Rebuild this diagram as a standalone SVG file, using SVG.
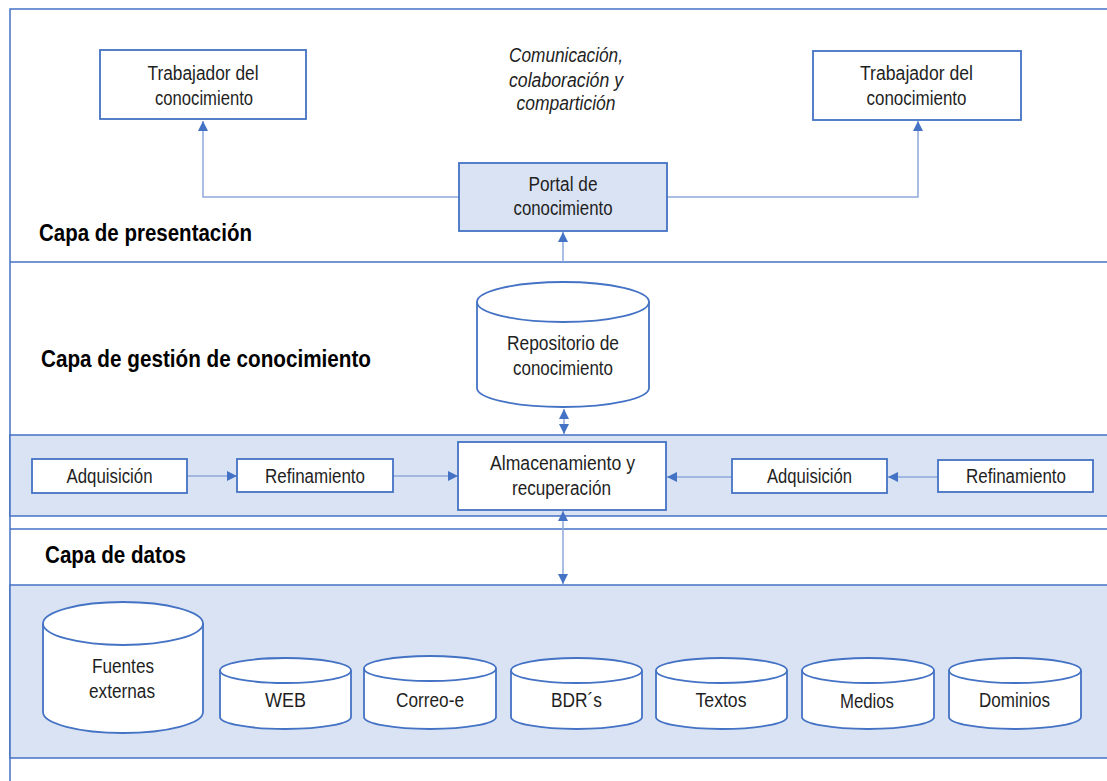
<svg xmlns="http://www.w3.org/2000/svg" width="1107" height="781" viewBox="0 0 1107 781">
<defs>
<marker id="ah" markerUnits="userSpaceOnUse" markerWidth="11" markerHeight="10" refX="10" refY="5" orient="auto-start-reverse" viewBox="0 0 11 10">
<path d="M0,0 L10,5 L0,10 z" fill="#4472C4"/>
</marker>
</defs>
<style>
.frame{fill:#fff;stroke:#4472C4;stroke-width:1.5}
.band{fill:#DAE3F3;stroke:#4472C4;stroke-width:1.5}
.box{fill:#fff;stroke:#4472C4;stroke-width:1.8}
.pbox{fill:#DAE3F3;stroke:#4472C4;stroke-width:1.8}
.cyl{fill:#fff;stroke:#4472C4;stroke-width:1.8}
.t{font-family:"Liberation Sans",Arial,sans-serif;font-size:20px;fill:#1f1f1f;text-anchor:middle}
.ti{font-family:"Liberation Sans",Arial,sans-serif;font-size:20px;fill:#1f1f1f;text-anchor:middle;font-style:italic}
.h{font-family:"Liberation Sans",Arial,sans-serif;font-size:23px;font-weight:bold;fill:#000}
.c{fill:none;stroke:#8EA9DB;stroke-width:1.5}
</style>
<g id="layers">
<rect class="frame" x="10" y="9" width="1110" height="790"/>
<line x1="10" y1="262" x2="1120" y2="262" stroke="#4472C4" stroke-width="1.5"/>
<rect class="band" x="10" y="435" width="1110" height="81"/>
<line x1="10" y1="529" x2="1120" y2="529" stroke="#4472C4" stroke-width="1.5"/>
<rect class="band" x="10" y="585" width="1110" height="173"/>
<text class="h" x="39" y="241" textLength="213" lengthAdjust="spacingAndGlyphs">Capa de presentación</text>
<text class="h" x="41" y="367" textLength="330" lengthAdjust="spacingAndGlyphs">Capa de gestión de conocimiento</text>
<text class="h" x="45" y="563" textLength="141" lengthAdjust="spacingAndGlyphs">Capa de datos</text>
<text class="ti" x="566" y="62" textLength="114" lengthAdjust="spacingAndGlyphs">Comunicación,</text>
<text class="ti" x="566" y="87" textLength="114" lengthAdjust="spacingAndGlyphs">colaboración y</text>
<text class="ti" x="566" y="110" textLength="99" lengthAdjust="spacingAndGlyphs">compartición</text>
</g>
<g id="connectors">
<polyline class="c" points="459,197 203,197 203,121" marker-end="url(#ah)"/>
<polyline class="c" points="667,197 918,197 918,121" marker-end="url(#ah)"/>
<line class="c" x1="563" y1="262" x2="563" y2="232" marker-end="url(#ah)"/>
<line class="c" x1="564" y1="409" x2="564" y2="434" marker-start="url(#ah)" marker-end="url(#ah)"/>
<line class="c" x1="187" y1="476" x2="237" y2="476" marker-end="url(#ah)"/>
<line class="c" x1="393" y1="476" x2="458" y2="476" marker-end="url(#ah)"/>
<line class="c" x1="732" y1="477" x2="667" y2="477" marker-end="url(#ah)"/>
<line class="c" x1="938" y1="477" x2="888" y2="477" marker-end="url(#ah)"/>
<line class="c" x1="563" y1="511" x2="563" y2="584" marker-start="url(#ah)" marker-end="url(#ah)"/>
</g>
<g id="trabajador1">
<rect class="box" x="100" y="50" width="206" height="69"/>
<text class="t" x="203" y="80" textLength="111" lengthAdjust="spacingAndGlyphs">Trabajador del</text>
<text class="t" x="204" y="105" textLength="98" lengthAdjust="spacingAndGlyphs">conocimiento</text>
</g>
<g id="trabajador2">
<rect class="box" x="813" y="51" width="208" height="69"/>
<text class="t" x="916.5" y="80" textLength="113" lengthAdjust="spacingAndGlyphs">Trabajador del</text>
<text class="t" x="916.5" y="105" textLength="100" lengthAdjust="spacingAndGlyphs">conocimiento</text>
</g>
<g id="portal">
<rect class="pbox" x="459" y="163" width="208" height="68"/>
<text class="t" x="563" y="191" textLength="69" lengthAdjust="spacingAndGlyphs">Portal de</text>
<text class="t" x="563" y="215" textLength="99" lengthAdjust="spacingAndGlyphs">conocimiento</text>
</g>
<g id="repositorio">
<path class="cyl" d="M477,302 V388 A86,19 0 0 0 649,388 V302"/>
<ellipse class="cyl" cx="563" cy="302" rx="86" ry="20"/>
<text class="t" x="563" y="350" textLength="112" lengthAdjust="spacingAndGlyphs">Repositorio de</text>
<text class="t" x="563" y="375" textLength="100" lengthAdjust="spacingAndGlyphs">conocimiento</text>
</g>
<g id="adquisicion1">
<rect class="box" x="32" y="459" width="155" height="34"/>
<text class="t" x="109.5" y="483" textLength="86" lengthAdjust="spacingAndGlyphs">Adquisición</text>
</g>
<g id="refinamiento1">
<rect class="box" x="237" y="459" width="156" height="33"/>
<text class="t" x="315" y="483" textLength="100" lengthAdjust="spacingAndGlyphs">Refinamiento</text>
</g>
<g id="almacenamiento">
<rect class="box" x="458" y="442" width="208" height="68"/>
<text class="t" x="562.5" y="470" textLength="145" lengthAdjust="spacingAndGlyphs">Almacenamiento y</text>
<text class="t" x="561.5" y="495" textLength="99" lengthAdjust="spacingAndGlyphs">recuperación</text>
</g>
<g id="adquisicion2">
<rect class="box" x="732" y="459" width="155" height="34"/>
<text class="t" x="809.5" y="483" textLength="85" lengthAdjust="spacingAndGlyphs">Adquisición</text>
</g>
<g id="refinamiento2">
<rect class="box" x="938" y="460" width="155" height="32"/>
<text class="t" x="1016" y="483" textLength="100" lengthAdjust="spacingAndGlyphs">Refinamiento</text>
</g>
<g id="fuentes">
<path class="cyl" d="M43,623.5 V712 A80,21 0 0 0 203,712 V623.5"/>
<ellipse class="cyl" cx="123" cy="623.5" rx="80" ry="21.5"/>
<text class="t" x="123" y="673" textLength="62" lengthAdjust="spacingAndGlyphs">Fuentes</text>
<text class="t" x="122" y="698" textLength="66" lengthAdjust="spacingAndGlyphs">externas</text>
</g>
<g id="web">
<path class="cyl" d="M220,670.5 V717 A65.5,12 0 0 0 351,717 V670.5"/>
<ellipse class="cyl" cx="285.5" cy="670.5" rx="65.5" ry="12.5"/>
<text class="t" x="285.5" y="707" textLength="41" lengthAdjust="spacingAndGlyphs">WEB</text>
</g>
<g id="correo">
<path class="cyl" d="M364,668.5 V717 A66,12 0 0 0 496,717 V668.5"/>
<ellipse class="cyl" cx="430" cy="668.5" rx="66" ry="12.5"/>
<text class="t" x="430" y="707" textLength="68" lengthAdjust="spacingAndGlyphs">Correo-e</text>
</g>
<g id="bdrs">
<path class="cyl" d="M511,670.5 V717 A65.5,12 0 0 0 642,717 V670.5"/>
<ellipse class="cyl" cx="576.5" cy="670.5" rx="65.5" ry="12.5"/>
<text class="t" x="576.5" y="707" textLength="51" lengthAdjust="spacingAndGlyphs">BDR´s</text>
</g>
<g id="textos">
<path class="cyl" d="M656,670.5 V717 A65.5,12 0 0 0 787,717 V670.5"/>
<ellipse class="cyl" cx="721.5" cy="670.5" rx="65.5" ry="12.5"/>
<text class="t" x="721" y="707" textLength="51" lengthAdjust="spacingAndGlyphs">Textos</text>
</g>
<g id="medios">
<path class="cyl" d="M802,670.5 V717 A66,12 0 0 0 934,717 V670.5"/>
<ellipse class="cyl" cx="868" cy="670.5" rx="66" ry="12.5"/>
<text class="t" x="867" y="708" textLength="54" lengthAdjust="spacingAndGlyphs">Medios</text>
</g>
<g id="dominios">
<path class="cyl" d="M949,670.5 V717 A66,12 0 0 0 1081,717 V670.5"/>
<ellipse class="cyl" cx="1015" cy="670.5" rx="66" ry="12.5"/>
<text class="t" x="1014.5" y="707" textLength="71" lengthAdjust="spacingAndGlyphs">Dominios</text>
</g>
</svg>
